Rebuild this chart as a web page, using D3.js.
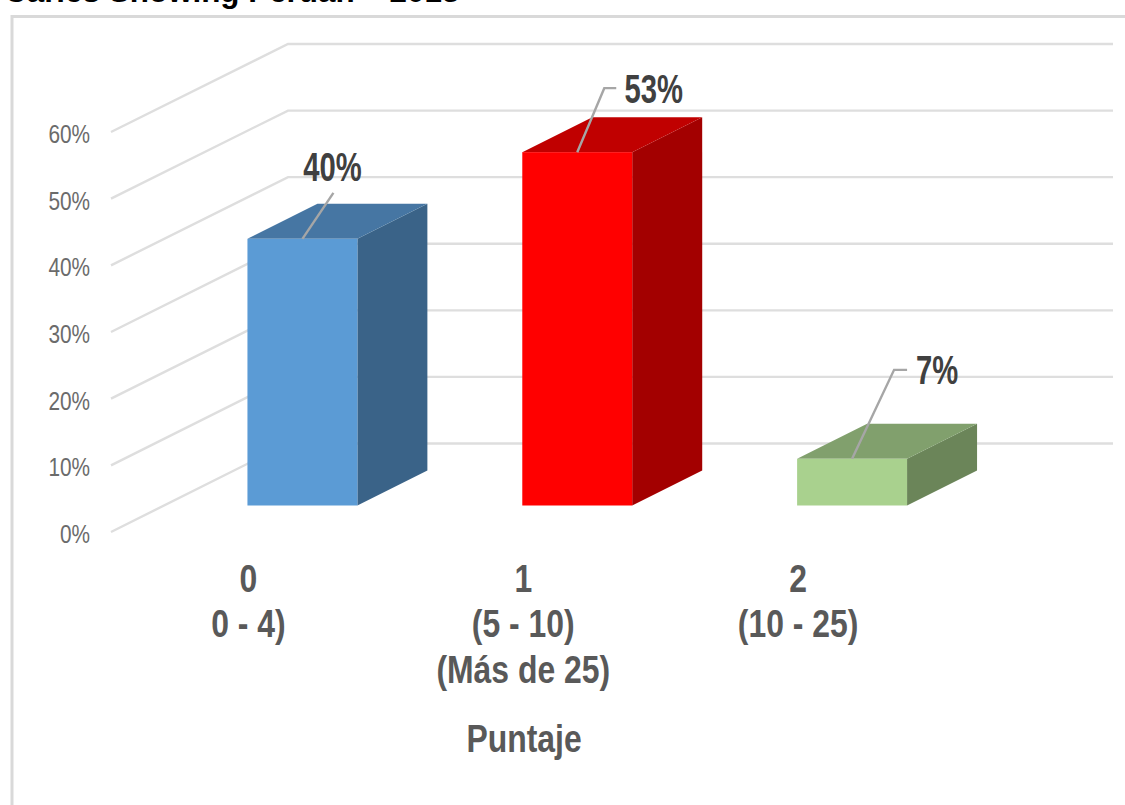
<!DOCTYPE html>
<html>
<head>
<meta charset="utf-8">
<script src="https://cdn.jsdelivr.net/npm/d3@7/dist/d3.min.js"></script>
<style>
  html, body { margin: 0; padding: 0; background: #fff; }
  svg { display: block; }
  text { font-family: "Liberation Sans", Arial, sans-serif; }
</style>
</head>
<body>
<svg id="chart" width="1125" height="805"></svg>
<script>
// Chart content
const titleText = "Caries Showing Perúan – 2013";
const categories = ["0", "1", "2"];
const categoryLines = [["0", "0 - 4)"], ["1", "(5 - 10)", "(Más de 25)"], ["2", "(10 - 25)"]];
const shares = [0.40, 0.53, 0.07];
const valueLabels = ["40%", "53%", "7%"];
const axisTicks = [0, 0.1, 0.2, 0.3, 0.4, 0.5, 0.6];
const axisTitle = "Puntaje";
const frontColors = ["#5b9bd5", "#ff0000", "#a9d18e"];
const topColors = ["#4676a3", "#c00000", "#81a06d"];
const sideColors = ["#3a6388", "#a30000", "#6b8559"];

const svg = d3.select("#chart");

// Three parallel vertical scales: the wall's near edge, its far edge, and the bar fronts.
const yNear = d3.scaleLinear().domain([0, 0.6]).range([532, 132]);
const yFar = d3.scaleLinear().domain([0, 0.6]).range([443.5, 44]);
const yBar = d3.scaleLinear().domain([0, 0.6]).range([505.5, 105.5]);
const xBar = d3.scaleBand().domain(categories).range([165, 989.5]).paddingInner(0.6).paddingOuter(0.3);
const depth = { dx: 70, dy: -35 };
const wall = { near: 111, far: 288, end: 1113 };

// Outer frame, open to the right and bottom edges of the page
svg.append("path")
  .attr("d", "M1125,16.5H12V805")
  .attr("fill", "none").attr("stroke", "#d9d9d9").attr("stroke-width", 3);

// Heading running off the top of the page
svg.append("text")
  .attr("x", 4).attr("y", 2)
  .attr("font-size", 31.4).attr("font-weight", 700).attr("fill", "#000")
  .text(titleText);

// Gridlines on the side wall and back wall
svg.append("g").selectAll("path").data(axisTicks).join("path")
  .attr("d", d => `M${wall.near},${yNear(d)}L${wall.far},${yFar(d)}H${wall.end}`)
  .attr("fill", "none").attr("stroke", "#dedede").attr("stroke-width", 2.4);

// Percent tick labels
const tickFormat = d3.format(".0%");
svg.append("g").selectAll("text").data(axisTicks).join("text")
  .attr("text-anchor", "end")
  .attr("transform", d => `translate(90,${yNear(d) + 11}) scale(0.8,1)`)
  .attr("font-size", 26).attr("fill", "#6b6b6b")
  .text(d => tickFormat(d));

// Extruded bars: side, top, then front face
const bars = svg.append("g").selectAll("g").data(categories).join("g");
const bw = xBar.bandwidth();
bars.append("path")
  .attr("fill", (d, i) => sideColors[i])
  .attr("d", (d, i) => {
    const x = xBar(d) + bw;
    return `M${x},${yBar(0)}L${x + depth.dx},${yBar(0) + depth.dy}V${yBar(shares[i]) + depth.dy}L${x},${yBar(shares[i])}Z`;
  });
bars.append("path")
  .attr("fill", (d, i) => topColors[i])
  .attr("d", (d, i) => {
    const x = xBar(d), t = yBar(shares[i]);
    return `M${x},${t}L${x + depth.dx},${t + depth.dy}H${x + bw + depth.dx}L${x + bw},${t}Z`;
  });
bars.append("rect")
  .attr("fill", (d, i) => frontColors[i])
  .attr("x", d => xBar(d)).attr("width", bw)
  .attr("y", (d, i) => yBar(shares[i]))
  .attr("height", (d, i) => yBar(0) - yBar(shares[i]));

// Leader lines rise from each bar's top edge toward its value label
const leaderRise = [[31, -46, 0], [27, -64, 12], [42, -89, 13]];
bars.append("path")
  .attr("fill", "none").attr("stroke", "#a6a6a6").attr("stroke-width", 2.4)
  .attr("d", (d, i) => {
    const x = xBar(d) + bw / 2, t = yBar(shares[i]);
    const [dx, dy, run] = leaderRise[i];
    return `M${x},${t}L${x + dx},${t + dy}h${run}`;
  });

// Value labels
const labelOffset = [[30, -58], [76.5, -49], [85, -75]];
bars.append("text")
  .attr("text-anchor", "middle")
  .attr("transform", (d, i) => `translate(${xBar(d) + bw / 2 + labelOffset[i][0]},${yBar(shares[i]) + labelOffset[i][1]}) scale(0.73,1)`)
  .attr("font-size", 40).attr("font-weight", 700).attr("fill", "#404040")
  .text((d, i) => valueLabels[i]);

// Category labels, centred on the bars' left edges
const catGroups = svg.append("g").selectAll("g").data(categories).join("g")
  .attr("transform", d => `translate(${xBar(d) + 1},0)`);
catGroups.selectAll("text").data((d, i) => categoryLines[i]).join("text")
  .attr("text-anchor", "middle")
  .attr("transform", (line, j) => `translate(0,${591.5 + j * 45.5}) scale(0.84,1)`)
  .attr("font-size", 38).attr("font-weight", 700).attr("fill", "#595959")
  .text(line => line);

// Axis title
svg.append("text")
  .attr("text-anchor", "middle")
  .attr("transform", "translate(524,752) scale(0.84,1)")
  .attr("font-size", 38).attr("font-weight", 700).attr("fill", "#595959")
  .text(axisTitle);
</script>
</body>
</html>
